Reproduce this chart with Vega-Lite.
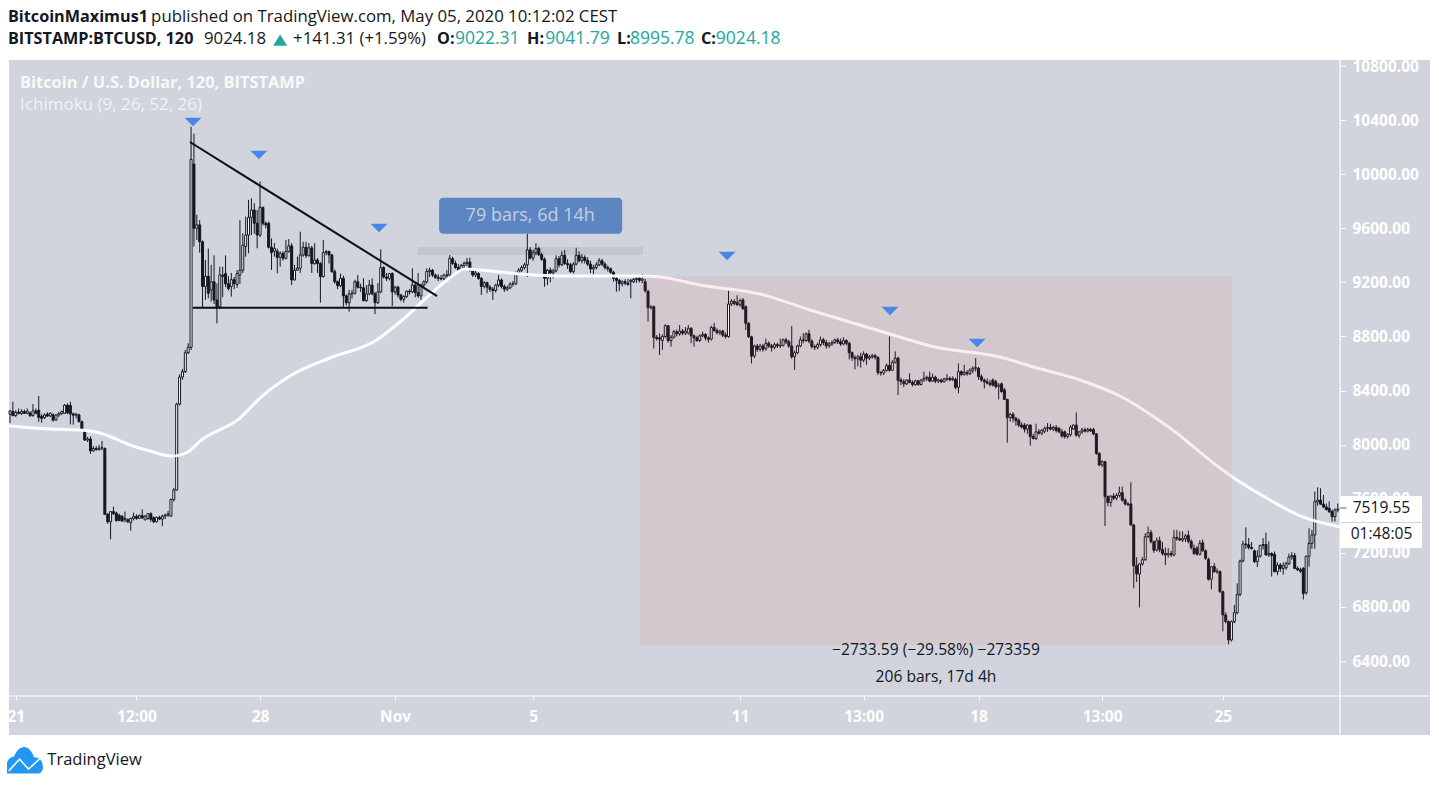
{"$schema":"https://vega.github.io/schema/vega-lite/v6.json","width":1421,"height":675,"autosize":"none","padding":{"left":9,"top":60,"right":9,"bottom":50},"background":"#ffffff","view":{"fill":"#d1d4dc","stroke":null},"config":{"font":"Open Sans"},
"encoding":{"x":{"field":"i","type":"quantitative","scale":{"domain":[-0.348,494.08],"nice":false,"zero":false,"padding":0},"axis":{"title":null,"orient":"bottom","offset":-39,"values":[2,44,87,134,182,254,297,337,380,422],"labelExpr":"{'2':'21','44':'12:00','87':'28','134':'Nov','182':'5','254':'11','297':'13:00','337':'18','380':'13:00','422':'25'}[''+datum.value]","grid":false,"domain":false,"tickColor":"#ffffff","tickSize":4,"labelColor":"#ffffff","labelFontSize":15.5,"labelFontWeight":"bold","labelFont":"Open Sans","labelPadding":9,"labelOverlap":false,"labelFlush":false}},
"y":{"field":"p","type":"quantitative","scale":{"domain":[5853.4,10844.4],"nice":false,"zero":false,"padding":0},"axis":{"title":null,"orient":"right","offset":-90,"values":[6400,6800,7200,7600,8000,8400,8800,9200,9600,10000,10400,10800],"format":".2f","grid":false,"domain":false,"tickColor":"#ffffff","tickSize":5,"labelColor":"#ffffff","labelFontSize":15.5,"labelFontWeight":"bold","labelFont":"Open Sans","labelPadding":7,"labelOverlap":false,"labelFlush":false}}},
"datasets":{
"separators":[{"i":462.8,"i2":462.8,"p":10844.4,"p2":5853.4},{"i":-0.348,"i2":494.08,"p":6141.8,"p2":6141.8}],
"candles":[
{"i":0,"o":8225,"h":8255,"l":8160,"c":8250},{"i":1,"o":8245,"h":8318,"l":8210,"c":8215},{"i":2,"o":8215,"h":8255,"l":8205,"c":8240},{"i":3,"o":8240,"h":8268,"l":8225,"c":8230},{"i":4,"o":8230,"h":8262,"l":8220,"c":8245},{"i":5,"o":8245,"h":8260,"l":8228,"c":8232},{"i":6,"o":8232,"h":8268,"l":8225,"c":8248},{"i":7,"o":8235,"h":8245,"l":8205,"c":8215},{"i":8,"o":8215,"h":8300,"l":8208,"c":8250},{"i":9,"o":8250,"h":8268,"l":8228,"c":8232},
{"i":10,"o":8255,"h":8360,"l":8170,"c":8202},{"i":11,"o":8210,"h":8225,"l":8162,"c":8195},{"i":12,"o":8200,"h":8232,"l":8190,"c":8220},{"i":13,"o":8225,"h":8240,"l":8205,"c":8212},{"i":14,"o":8212,"h":8240,"l":8205,"c":8232},{"i":15,"o":8220,"h":8232,"l":8170,"c":8182},{"i":16,"o":8182,"h":8225,"l":8178,"c":8220},{"i":17,"o":8220,"h":8240,"l":8205,"c":8232},{"i":18,"o":8230,"h":8252,"l":8218,"c":8245},{"i":19,"o":8232,"h":8300,"l":8228,"c":8292},
{"i":20,"o":8292,"h":8305,"l":8225,"c":8235},{"i":21,"o":8290,"h":8318,"l":8150,"c":8228},{"i":22,"o":8228,"h":8238,"l":8148,"c":8218},{"i":23,"o":8218,"h":8235,"l":8195,"c":8225},{"i":24,"o":8220,"h":8230,"l":8165,"c":8170},{"i":25,"o":8170,"h":8178,"l":8105,"c":8108},{"i":26,"o":8108,"h":8115,"l":8030,"c":8034},{"i":27,"o":8034,"h":8058,"l":8020,"c":8042},{"i":28,"o":8042,"h":8060,"l":7932,"c":7955},{"i":29,"o":7955,"h":7990,"l":7948,"c":7972},
{"i":30,"o":7972,"h":7990,"l":7955,"c":7965},{"i":31,"o":7965,"h":7998,"l":7955,"c":7975},{"i":32,"o":7975,"h":8027,"l":7958,"c":7978},{"i":33,"o":7972,"h":7980,"l":7480,"c":7485},{"i":34,"o":7485,"h":7495,"l":7415,"c":7430},{"i":35,"o":7430,"h":7510,"l":7300,"c":7505},{"i":36,"o":7505,"h":7542,"l":7480,"c":7490},{"i":37,"o":7495,"h":7505,"l":7430,"c":7440},{"i":38,"o":7478,"h":7490,"l":7435,"c":7440},{"i":39,"o":7470,"h":7480,"l":7430,"c":7435},
{"i":40,"o":7445,"h":7505,"l":7425,"c":7455},{"i":41,"o":7445,"h":7455,"l":7420,"c":7430},{"i":42,"o":7423,"h":7460,"l":7364,"c":7455},{"i":43,"o":7455,"h":7497,"l":7440,"c":7470},{"i":44,"o":7470,"h":7485,"l":7445,"c":7455},{"i":45,"o":7455,"h":7485,"l":7450,"c":7475},{"i":46,"o":7475,"h":7522,"l":7450,"c":7460},{"i":47,"o":7445,"h":7480,"l":7440,"c":7472},{"i":48,"o":7455,"h":7490,"l":7445,"c":7490},{"i":49,"o":7490,"h":7500,"l":7430,"c":7448},
{"i":50,"o":7460,"h":7470,"l":7420,"c":7430},{"i":51,"o":7430,"h":7470,"l":7425,"c":7462},{"i":52,"o":7462,"h":7475,"l":7445,"c":7450},{"i":53,"o":7450,"h":7482,"l":7398,"c":7472},{"i":54,"o":7472,"h":7490,"l":7450,"c":7480},{"i":55,"o":7480,"h":7510,"l":7465,"c":7488},{"i":56,"o":7472,"h":7600,"l":7470,"c":7595},{"i":57,"o":7595,"h":7680,"l":7580,"c":7665},{"i":58,"o":7665,"h":8310,"l":7660,"c":8300},{"i":59,"o":8300,"h":8520,"l":8290,"c":8500},
{"i":60,"o":8500,"h":8560,"l":8480,"c":8540},{"i":61,"o":8540,"h":8700,"l":8530,"c":8680},{"i":62,"o":8680,"h":8750,"l":8670,"c":8720},{"i":63,"o":8720,"h":10350,"l":8700,"c":10110},{"i":64,"o":10075,"h":10300,"l":9465,"c":9600},{"i":65,"o":9600,"h":9700,"l":9514,"c":9625},{"i":66,"o":9625,"h":9660,"l":9420,"c":9500},{"i":67,"o":9500,"h":9510,"l":9010,"c":9170},{"i":68,"o":9170,"h":9366,"l":9070,"c":9245},{"i":69,"o":9245,"h":9450,"l":9082,"c":9120},
{"i":70,"o":9145,"h":9330,"l":9058,"c":9205},{"i":71,"o":9205,"h":9400,"l":9040,"c":9070},{"i":72,"o":9070,"h":9193,"l":8897,"c":9020},{"i":73,"o":9020,"h":9316,"l":9005,"c":9255},{"i":74,"o":9255,"h":9316,"l":9090,"c":9245},{"i":75,"o":9265,"h":9400,"l":9165,"c":9190},{"i":76,"o":9190,"h":9245,"l":9140,"c":9155},{"i":77,"o":9170,"h":9270,"l":9095,"c":9220},{"i":78,"o":9220,"h":9240,"l":9150,"c":9190},{"i":79,"o":9185,"h":9290,"l":9160,"c":9265},
{"i":80,"o":9255,"h":9660,"l":9190,"c":9290},{"i":81,"o":9290,"h":9563,"l":9270,"c":9475},{"i":82,"o":9465,"h":9686,"l":9390,"c":9550},{"i":83,"o":9550,"h":9810,"l":9415,"c":9681},{"i":84,"o":9681,"h":9822,"l":9550,"c":9735},{"i":85,"o":9735,"h":9785,"l":9560,"c":9637},{"i":86,"o":9637,"h":9735,"l":9452,"c":9550},{"i":87,"o":9550,"h":9945,"l":9535,"c":9755},{"i":88,"o":9755,"h":9760,"l":9620,"c":9637},{"i":89,"o":9637,"h":9650,"l":9600,"c":9625},
{"i":90,"o":9637,"h":9650,"l":9450,"c":9460},{"i":91,"o":9460,"h":9525,"l":9292,"c":9420},{"i":92,"o":9430,"h":9490,"l":9390,"c":9450},{"i":93,"o":9430,"h":9450,"l":9267,"c":9385},{"i":94,"o":9385,"h":9430,"l":9316,"c":9415},{"i":95,"o":9415,"h":9430,"l":9360,"c":9378},{"i":96,"o":9378,"h":9513,"l":9370,"c":9428},{"i":97,"o":9428,"h":9520,"l":9420,"c":9470},{"i":98,"o":9470,"h":9490,"l":9180,"c":9218},{"i":99,"o":9218,"h":9330,"l":9215,"c":9290},
{"i":100,"o":9290,"h":9390,"l":9285,"c":9305},{"i":101,"o":9305,"h":9575,"l":9270,"c":9403},{"i":102,"o":9403,"h":9500,"l":9390,"c":9460},{"i":103,"o":9460,"h":9500,"l":9380,"c":9398},{"i":104,"o":9398,"h":9490,"l":9390,"c":9455},{"i":105,"o":9455,"h":9470,"l":9270,"c":9340},{"i":106,"o":9340,"h":9490,"l":9330,"c":9365},{"i":107,"o":9365,"h":9380,"l":9270,"c":9340},{"i":108,"o":9340,"h":9350,"l":9050,"c":9243},{"i":109,"o":9243,"h":9514,"l":9235,"c":9420},
{"i":110,"o":9420,"h":9440,"l":9400,"c":9428},{"i":111,"o":9428,"h":9435,"l":9340,"c":9403},{"i":112,"o":9403,"h":9410,"l":9270,"c":9280},{"i":113,"o":9280,"h":9295,"l":9190,"c":9205},{"i":114,"o":9205,"h":9215,"l":9150,"c":9175},{"i":115,"o":9175,"h":9265,"l":9165,"c":9230},{"i":116,"o":9230,"h":9250,"l":9020,"c":9100},{"i":117,"o":9100,"h":9110,"l":9030,"c":9050},{"i":118,"o":9050,"h":9145,"l":8984,"c":9115},{"i":119,"o":9115,"h":9145,"l":9080,"c":9120},
{"i":120,"o":9120,"h":9220,"l":9110,"c":9205},{"i":121,"o":9205,"h":9255,"l":9155,"c":9165},{"i":122,"o":9165,"h":9190,"l":9130,"c":9160},{"i":123,"o":9160,"h":9230,"l":9060,"c":9065},{"i":124,"o":9065,"h":9180,"l":9055,"c":9115},{"i":125,"o":9115,"h":9218,"l":9105,"c":9180},{"i":126,"o":9180,"h":9230,"l":9105,"c":9115},{"i":127,"o":9115,"h":9130,"l":8966,"c":9050},{"i":128,"o":9050,"h":9195,"l":9040,"c":9130},{"i":129,"o":9130,"h":9445,"l":9120,"c":9310},
{"i":130,"o":9310,"h":9320,"l":9230,"c":9240},{"i":131,"o":9240,"h":9270,"l":9210,"c":9230},{"i":132,"o":9230,"h":9270,"l":9215,"c":9265},{"i":133,"o":9265,"h":9275,"l":9025,"c":9130},{"i":134,"o":9130,"h":9175,"l":9110,"c":9165},{"i":135,"o":9165,"h":9175,"l":9090,"c":9107},{"i":136,"o":9107,"h":9115,"l":9060,"c":9075},{"i":137,"o":9075,"h":9105,"l":9050,"c":9095},{"i":138,"o":9095,"h":9140,"l":9085,"c":9135},{"i":139,"o":9135,"h":9150,"l":9110,"c":9130},
{"i":140,"o":9130,"h":9304,"l":9120,"c":9180},{"i":141,"o":9180,"h":9195,"l":9090,"c":9125},{"i":142,"o":9125,"h":9270,"l":9085,"c":9100},{"i":143,"o":9100,"h":9190,"l":9070,"c":9180},{"i":144,"o":9180,"h":9215,"l":9160,"c":9205},{"i":145,"o":9205,"h":9304,"l":9190,"c":9280},{"i":146,"o":9280,"h":9310,"l":9240,"c":9290},{"i":147,"o":9290,"h":9300,"l":9240,"c":9254},{"i":148,"o":9254,"h":9265,"l":9225,"c":9238},{"i":149,"o":9238,"h":9260,"l":9210,"c":9230},
{"i":150,"o":9230,"h":9255,"l":9215,"c":9225},{"i":151,"o":9225,"h":9265,"l":9215,"c":9255},{"i":152,"o":9255,"h":9290,"l":9235,"c":9250},{"i":153,"o":9254,"h":9402,"l":9240,"c":9378},{"i":154,"o":9375,"h":9390,"l":9330,"c":9340},{"i":155,"o":9340,"h":9360,"l":9300,"c":9310},{"i":156,"o":9310,"h":9335,"l":9280,"c":9290},{"i":157,"o":9290,"h":9335,"l":9280,"c":9325},{"i":158,"o":9325,"h":9355,"l":9300,"c":9340},{"i":159,"o":9340,"h":9380,"l":9320,"c":9350},
{"i":160,"o":9350,"h":9382,"l":9280,"c":9290},{"i":161,"o":9290,"h":9300,"l":9240,"c":9255},{"i":162,"o":9255,"h":9285,"l":9240,"c":9270},{"i":163,"o":9265,"h":9275,"l":9220,"c":9230},{"i":164,"o":9230,"h":9240,"l":9107,"c":9170},{"i":165,"o":9170,"h":9210,"l":9155,"c":9198},{"i":166,"o":9198,"h":9205,"l":9120,"c":9165},{"i":167,"o":9165,"h":9180,"l":9130,"c":9150},{"i":168,"o":9150,"h":9165,"l":9070,"c":9140},{"i":169,"o":9140,"h":9190,"l":9125,"c":9180},
{"i":170,"o":9180,"h":9255,"l":9165,"c":9218},{"i":171,"o":9218,"h":9230,"l":9155,"c":9170},{"i":172,"o":9170,"h":9185,"l":9130,"c":9150},{"i":173,"o":9150,"h":9175,"l":9135,"c":9160},{"i":174,"o":9160,"h":9200,"l":9150,"c":9188},{"i":175,"o":9188,"h":9210,"l":9170,"c":9190},{"i":176,"o":9190,"h":9280,"l":9180,"c":9267},{"i":177,"o":9267,"h":9305,"l":9255,"c":9290},{"i":178,"o":9290,"h":9325,"l":9275,"c":9310},{"i":179,"o":9310,"h":9345,"l":9295,"c":9330},
{"i":180,"o":9330,"h":9558,"l":9240,"c":9440},{"i":181,"o":9440,"h":9460,"l":9370,"c":9380},{"i":182,"o":9380,"h":9440,"l":9360,"c":9420},{"i":183,"o":9420,"h":9490,"l":9400,"c":9450},{"i":184,"o":9450,"h":9465,"l":9395,"c":9405},{"i":185,"o":9405,"h":9420,"l":9360,"c":9370},{"i":186,"o":9370,"h":9385,"l":9168,"c":9230},{"i":187,"o":9230,"h":9300,"l":9180,"c":9290},{"i":188,"o":9290,"h":9310,"l":9200,"c":9270},{"i":189,"o":9270,"h":9300,"l":9230,"c":9285},
{"i":190,"o":9285,"h":9400,"l":9275,"c":9375},{"i":191,"o":9375,"h":9395,"l":9310,"c":9330},{"i":192,"o":9330,"h":9430,"l":9320,"c":9400},{"i":193,"o":9400,"h":9440,"l":9330,"c":9340},{"i":194,"o":9340,"h":9370,"l":9300,"c":9330},{"i":195,"o":9330,"h":9345,"l":9270,"c":9280},{"i":196,"o":9280,"h":9350,"l":9265,"c":9335},{"i":197,"o":9335,"h":9456,"l":9325,"c":9400},{"i":198,"o":9400,"h":9430,"l":9350,"c":9360},{"i":199,"o":9360,"h":9410,"l":9340,"c":9385},
{"i":200,"o":9385,"h":9400,"l":9340,"c":9362},{"i":201,"o":9362,"h":9385,"l":9320,"c":9335},{"i":202,"o":9335,"h":9360,"l":9270,"c":9300},{"i":203,"o":9300,"h":9330,"l":9260,"c":9310},{"i":204,"o":9310,"h":9350,"l":9295,"c":9330},{"i":205,"o":9330,"h":9380,"l":9320,"c":9360},{"i":206,"o":9360,"h":9375,"l":9320,"c":9335},{"i":207,"o":9335,"h":9350,"l":9295,"c":9310},{"i":208,"o":9310,"h":9325,"l":9280,"c":9300},{"i":209,"o":9300,"h":9310,"l":9265,"c":9275},
{"i":210,"o":9275,"h":9285,"l":9205,"c":9230},{"i":211,"o":9230,"h":9240,"l":9131,"c":9215},{"i":212,"o":9215,"h":9225,"l":9135,"c":9190},{"i":213,"o":9190,"h":9215,"l":9170,"c":9205},{"i":214,"o":9205,"h":9222,"l":9180,"c":9195},{"i":215,"o":9195,"h":9225,"l":9175,"c":9185},{"i":216,"o":9205,"h":9225,"l":9082,"c":9215},{"i":217,"o":9205,"h":9235,"l":9195,"c":9222},{"i":218,"o":9222,"h":9240,"l":9195,"c":9230},{"i":219,"o":9230,"h":9252,"l":9200,"c":9215},
{"i":220,"o":9215,"h":9262,"l":9195,"c":9225},{"i":221,"o":9205,"h":9225,"l":9125,"c":9138},{"i":222,"o":9135,"h":9145,"l":8910,"c":9013},{"i":223,"o":9013,"h":9030,"l":9000,"c":9020},{"i":224,"o":9020,"h":9030,"l":8712,"c":8794},{"i":225,"o":8794,"h":8810,"l":8770,"c":8785},{"i":226,"o":8790,"h":8823,"l":8663,"c":8780},{"i":227,"o":8770,"h":8815,"l":8700,"c":8800},{"i":228,"o":8800,"h":8890,"l":8790,"c":8880},{"i":229,"o":8880,"h":8885,"l":8755,"c":8770},
{"i":230,"o":8770,"h":8810,"l":8725,"c":8795},{"i":231,"o":8795,"h":8848,"l":8785,"c":8835},{"i":232,"o":8835,"h":8850,"l":8800,"c":8820},{"i":233,"o":8820,"h":8885,"l":8805,"c":8840},{"i":234,"o":8840,"h":8855,"l":8810,"c":8825},{"i":235,"o":8825,"h":8870,"l":8810,"c":8840},{"i":236,"o":8825,"h":8885,"l":8815,"c":8860},{"i":237,"o":8860,"h":8870,"l":8750,"c":8805},{"i":238,"o":8805,"h":8815,"l":8725,"c":8790},{"i":239,"o":8790,"h":8805,"l":8760,"c":8770},
{"i":240,"o":8770,"h":8815,"l":8760,"c":8805},{"i":241,"o":8805,"h":8835,"l":8795,"c":8815},{"i":242,"o":8815,"h":8825,"l":8770,"c":8790},{"i":243,"o":8790,"h":8800,"l":8755,"c":8780},{"i":244,"o":8780,"h":8880,"l":8770,"c":8867},{"i":245,"o":8867,"h":8900,"l":8835,"c":8845},{"i":246,"o":8845,"h":8860,"l":8815,"c":8828},{"i":247,"o":8828,"h":8850,"l":8810,"c":8840},{"i":248,"o":8840,"h":8850,"l":8795,"c":8810},{"i":249,"o":8810,"h":8830,"l":8785,"c":8800},
{"i":250,"o":8800,"h":9139,"l":8790,"c":9040},{"i":251,"o":9040,"h":9075,"l":9025,"c":9060},{"i":252,"o":9060,"h":9075,"l":9030,"c":9045},{"i":253,"o":9050,"h":9105,"l":9025,"c":9035},{"i":254,"o":9035,"h":9080,"l":9020,"c":9065},{"i":255,"o":9070,"h":9085,"l":8995,"c":9008},{"i":256,"o":9020,"h":9030,"l":8848,"c":8898},{"i":257,"o":8898,"h":8905,"l":8790,"c":8798},{"i":258,"o":8798,"h":8805,"l":8600,"c":8655},{"i":259,"o":8655,"h":8740,"l":8640,"c":8730},
{"i":260,"o":8730,"h":8745,"l":8685,"c":8705},{"i":261,"o":8705,"h":8745,"l":8690,"c":8730},{"i":262,"o":8730,"h":8745,"l":8688,"c":8705},{"i":263,"o":8710,"h":8785,"l":8695,"c":8750},{"i":264,"o":8750,"h":8765,"l":8715,"c":8730},{"i":265,"o":8730,"h":8745,"l":8688,"c":8720},{"i":266,"o":8720,"h":8755,"l":8705,"c":8740},{"i":267,"o":8740,"h":8755,"l":8715,"c":8730},{"i":268,"o":8730,"h":8785,"l":8715,"c":8735},{"i":269,"o":8735,"h":8785,"l":8725,"c":8775},
{"i":270,"o":8775,"h":8790,"l":8745,"c":8760},{"i":271,"o":8760,"h":8775,"l":8715,"c":8730},{"i":272,"o":8730,"h":8877,"l":8635,"c":8650},{"i":273,"o":8650,"h":8695,"l":8552,"c":8680},{"i":274,"o":8680,"h":8740,"l":8670,"c":8730},{"i":275,"o":8730,"h":8800,"l":8720,"c":8775},{"i":276,"o":8775,"h":8825,"l":8750,"c":8770},{"i":277,"o":8770,"h":8830,"l":8760,"c":8820},{"i":278,"o":8820,"h":8850,"l":8750,"c":8766},{"i":279,"o":8766,"h":8780,"l":8710,"c":8725},
{"i":280,"o":8725,"h":8740,"l":8700,"c":8720},{"i":281,"o":8720,"h":8755,"l":8705,"c":8740},{"i":282,"o":8740,"h":8800,"l":8725,"c":8775},{"i":283,"o":8775,"h":8790,"l":8735,"c":8755},{"i":284,"o":8755,"h":8775,"l":8710,"c":8730},{"i":285,"o":8730,"h":8760,"l":8715,"c":8745},{"i":286,"o":8745,"h":8770,"l":8730,"c":8755},{"i":287,"o":8755,"h":8785,"l":8745,"c":8775},{"i":288,"o":8775,"h":8790,"l":8745,"c":8760},{"i":289,"o":8760,"h":8785,"l":8730,"c":8745},
{"i":290,"o":8745,"h":8795,"l":8735,"c":8770},{"i":291,"o":8770,"h":8780,"l":8735,"c":8750},{"i":292,"o":8750,"h":8760,"l":8630,"c":8680},{"i":293,"o":8680,"h":8690,"l":8620,"c":8645},{"i":294,"o":8645,"h":8660,"l":8557,"c":8635},{"i":295,"o":8635,"h":8665,"l":8580,"c":8650},{"i":296,"o":8650,"h":8680,"l":8570,"c":8625},{"i":297,"o":8625,"h":8690,"l":8610,"c":8670},{"i":298,"o":8670,"h":8680,"l":8590,"c":8640},{"i":299,"o":8640,"h":8665,"l":8625,"c":8650},
{"i":300,"o":8650,"h":8672,"l":8635,"c":8658},{"i":301,"o":8658,"h":8672,"l":8630,"c":8645},{"i":302,"o":8645,"h":8655,"l":8515,"c":8533},{"i":303,"o":8533,"h":8545,"l":8510,"c":8530},{"i":304,"o":8530,"h":8560,"l":8515,"c":8550},{"i":305,"o":8550,"h":8600,"l":8540,"c":8585},{"i":306,"o":8585,"h":8800,"l":8540,"c":8550},{"i":307,"o":8550,"h":8625,"l":8545,"c":8610},{"i":308,"o":8610,"h":8690,"l":8600,"c":8640},{"i":309,"o":8640,"h":8650,"l":8367,"c":8475},
{"i":310,"o":8478,"h":8495,"l":8440,"c":8466},{"i":311,"o":8466,"h":8485,"l":8425,"c":8450},{"i":312,"o":8450,"h":8485,"l":8440,"c":8478},{"i":313,"o":8478,"h":8528,"l":8455,"c":8460},{"i":314,"o":8460,"h":8475,"l":8430,"c":8445},{"i":315,"o":8445,"h":8480,"l":8435,"c":8472},{"i":316,"o":8472,"h":8480,"l":8435,"c":8445},{"i":317,"o":8445,"h":8485,"l":8438,"c":8478},{"i":318,"o":8478,"h":8540,"l":8465,"c":8490},{"i":319,"o":8490,"h":8510,"l":8470,"c":8498},
{"i":320,"o":8498,"h":8540,"l":8462,"c":8470},{"i":321,"o":8470,"h":8525,"l":8465,"c":8498},{"i":322,"o":8498,"h":8510,"l":8455,"c":8470},{"i":323,"o":8470,"h":8490,"l":8455,"c":8478},{"i":324,"o":8478,"h":8490,"l":8455,"c":8465},{"i":325,"o":8465,"h":8495,"l":8460,"c":8485},{"i":326,"o":8485,"h":8522,"l":8470,"c":8490},{"i":327,"o":8490,"h":8505,"l":8470,"c":8480},{"i":328,"o":8480,"h":8505,"l":8470,"c":8490},{"i":329,"o":8483,"h":8495,"l":8410,"c":8424},
{"i":330,"o":8424,"h":8600,"l":8380,"c":8540},{"i":331,"o":8540,"h":8550,"l":8505,"c":8520},{"i":332,"o":8520,"h":8590,"l":8510,"c":8535},{"i":333,"o":8535,"h":8550,"l":8510,"c":8525},{"i":334,"o":8525,"h":8565,"l":8515,"c":8550},{"i":335,"o":8550,"h":8580,"l":8530,"c":8565},{"i":336,"o":8565,"h":8640,"l":8540,"c":8570},{"i":337,"o":8565,"h":8575,"l":8480,"c":8503},{"i":338,"o":8503,"h":8520,"l":8465,"c":8478},{"i":339,"o":8478,"h":8490,"l":8415,"c":8465},
{"i":340,"o":8465,"h":8490,"l":8445,"c":8455},{"i":341,"o":8455,"h":8480,"l":8430,"c":8445},{"i":342,"o":8478,"h":8490,"l":8430,"c":8440},{"i":343,"o":8465,"h":8480,"l":8415,"c":8430},{"i":344,"o":8430,"h":8455,"l":8335,"c":8440},{"i":345,"o":8450,"h":8460,"l":8385,"c":8392},{"i":346,"o":8405,"h":8420,"l":8330,"c":8335},{"i":347,"o":8335,"h":8340,"l":8015,"c":8200},{"i":348,"o":8200,"h":8235,"l":8170,"c":8225},{"i":349,"o":8225,"h":8240,"l":8165,"c":8195},
{"i":350,"o":8195,"h":8205,"l":8140,"c":8178},{"i":351,"o":8180,"h":8195,"l":8130,"c":8145},{"i":352,"o":8145,"h":8165,"l":8120,"c":8130},{"i":353,"o":8145,"h":8160,"l":8090,"c":8115},{"i":354,"o":8115,"h":8150,"l":8080,"c":8145},{"i":355,"o":8145,"h":8150,"l":7993,"c":8060},{"i":356,"o":8060,"h":8080,"l":8040,"c":8045},{"i":357,"o":8045,"h":8155,"l":8035,"c":8095},{"i":358,"o":8095,"h":8115,"l":8075,"c":8085},{"i":359,"o":8085,"h":8115,"l":8070,"c":8108},
{"i":360,"o":8100,"h":8135,"l":8085,"c":8120},{"i":361,"o":8120,"h":8160,"l":8095,"c":8128},{"i":362,"o":8128,"h":8155,"l":8105,"c":8115},{"i":363,"o":8115,"h":8140,"l":8100,"c":8128},{"i":364,"o":8128,"h":8145,"l":8090,"c":8105},{"i":365,"o":8120,"h":8130,"l":8085,"c":8095},{"i":366,"o":8095,"h":8115,"l":8050,"c":8065},{"i":367,"o":8095,"h":8105,"l":8045,"c":8060},{"i":368,"o":8060,"h":8085,"l":8045,"c":8075},{"i":369,"o":8075,"h":8145,"l":8060,"c":8130},
{"i":370,"o":8116,"h":8150,"l":8110,"c":8145},{"i":371,"o":8145,"h":8239,"l":8060,"c":8070},{"i":372,"o":8070,"h":8100,"l":8050,"c":8095},{"i":373,"o":8095,"h":8125,"l":8080,"c":8110},{"i":374,"o":8110,"h":8125,"l":8090,"c":8100},{"i":375,"o":8100,"h":8125,"l":8090,"c":8112},{"i":376,"o":8112,"h":8125,"l":8095,"c":8102},{"i":377,"o":8112,"h":8125,"l":8070,"c":8080},{"i":378,"o":8080,"h":8085,"l":7925,"c":7935},{"i":379,"o":7935,"h":7945,"l":7840,"c":7850},
{"i":380,"o":7850,"h":7885,"l":7835,"c":7875},{"i":381,"o":7875,"h":7880,"l":7399,"c":7616},{"i":382,"o":7616,"h":7625,"l":7545,"c":7572},{"i":383,"o":7572,"h":7625,"l":7540,"c":7620},{"i":384,"o":7620,"h":7640,"l":7590,"c":7605},{"i":385,"o":7605,"h":7640,"l":7590,"c":7625},{"i":386,"o":7625,"h":7690,"l":7610,"c":7645},{"i":387,"o":7645,"h":7690,"l":7580,"c":7590},{"i":388,"o":7591,"h":7605,"l":7550,"c":7562},{"i":389,"o":7562,"h":7575,"l":7550,"c":7555},
{"i":390,"o":7562,"h":7722,"l":7400,"c":7406},{"i":391,"o":7406,"h":7415,"l":6938,"c":7105},{"i":392,"o":7105,"h":7167,"l":6985,"c":7044},{"i":393,"o":7044,"h":7125,"l":6797,"c":7118},{"i":394,"o":7118,"h":7170,"l":7105,"c":7150},{"i":395,"o":7150,"h":7345,"l":7140,"c":7320},{"i":396,"o":7320,"h":7395,"l":7310,"c":7350},{"i":397,"o":7350,"h":7370,"l":7270,"c":7283},{"i":398,"o":7283,"h":7290,"l":7200,"c":7220},{"i":399,"o":7220,"h":7315,"l":7210,"c":7290},
{"i":400,"o":7290,"h":7320,"l":7205,"c":7225},{"i":401,"o":7225,"h":7280,"l":7180,"c":7195},{"i":402,"o":7195,"h":7240,"l":7110,"c":7185},{"i":403,"o":7185,"h":7235,"l":7165,"c":7195},{"i":404,"o":7195,"h":7215,"l":7170,"c":7185},{"i":405,"o":7185,"h":7370,"l":7175,"c":7315},{"i":406,"o":7315,"h":7370,"l":7290,"c":7305},{"i":407,"o":7305,"h":7360,"l":7290,"c":7295},{"i":408,"o":7295,"h":7360,"l":7280,"c":7305},{"i":409,"o":7305,"h":7340,"l":7280,"c":7325},
{"i":410,"o":7330,"h":7365,"l":7270,"c":7285},{"i":411,"o":7285,"h":7300,"l":7225,"c":7240},{"i":412,"o":7235,"h":7260,"l":7185,"c":7195},{"i":413,"o":7235,"h":7250,"l":7180,"c":7190},{"i":414,"o":7190,"h":7295,"l":7180,"c":7270},{"i":415,"o":7275,"h":7300,"l":7210,"c":7215},{"i":416,"o":7215,"h":7225,"l":7150,"c":7160},{"i":417,"o":7152,"h":7165,"l":6995,"c":7005},{"i":418,"o":7005,"h":7100,"l":6930,"c":7098},{"i":419,"o":7100,"h":7125,"l":7055,"c":7060},
{"i":420,"o":7060,"h":7085,"l":7045,"c":7065},{"i":421,"o":7061,"h":7070,"l":6905,"c":6913},{"i":422,"o":6913,"h":6920,"l":6620,"c":6741},{"i":423,"o":6741,"h":6760,"l":6680,"c":6692},{"i":424,"o":6692,"h":6700,"l":6524,"c":6556},{"i":425,"o":6556,"h":6700,"l":6545,"c":6692},{"i":426,"o":6692,"h":6815,"l":6680,"c":6758},{"i":427,"o":6758,"h":6975,"l":6745,"c":6893},{"i":428,"o":6893,"h":7150,"l":6880,"c":7140},{"i":429,"o":7140,"h":7290,"l":7130,"c":7266},
{"i":430,"o":7266,"h":7389,"l":7230,"c":7260},{"i":431,"o":7260,"h":7310,"l":7225,"c":7240},{"i":432,"o":7240,"h":7280,"l":7225,"c":7232},{"i":433,"o":7215,"h":7225,"l":7125,"c":7135},{"i":434,"o":7135,"h":7220,"l":7095,"c":7175},{"i":435,"o":7175,"h":7260,"l":7165,"c":7255},{"i":436,"o":7255,"h":7310,"l":7225,"c":7262},{"i":437,"o":7262,"h":7350,"l":7180,"c":7185},{"i":438,"o":7185,"h":7285,"l":7170,"c":7195},{"i":439,"o":7195,"h":7205,"l":7025,"c":7180},
{"i":440,"o":7190,"h":7210,"l":7060,"c":7060},{"i":441,"o":7060,"h":7130,"l":7035,"c":7110},{"i":442,"o":7110,"h":7125,"l":7060,"c":7085},{"i":443,"o":7085,"h":7130,"l":7040,"c":7105},{"i":444,"o":7090,"h":7135,"l":7075,"c":7120},{"i":445,"o":7120,"h":7195,"l":7110,"c":7170},{"i":446,"o":7170,"h":7205,"l":7150,"c":7180},{"i":447,"o":7180,"h":7200,"l":7080,"c":7085},{"i":448,"o":7085,"h":7100,"l":7065,"c":7075},{"i":449,"o":7075,"h":7090,"l":7050,"c":7065},
{"i":450,"o":7085,"h":7095,"l":6856,"c":6900},{"i":451,"o":6905,"h":7180,"l":6890,"c":7175},{"i":452,"o":7175,"h":7382,"l":7098,"c":7270},{"i":453,"o":7270,"h":7370,"l":7230,"c":7332},{"i":454,"o":7332,"h":7653,"l":7230,"c":7579},{"i":455,"o":7576,"h":7685,"l":7550,"c":7590},{"i":456,"o":7590,"h":7678,"l":7555,"c":7560},{"i":457,"o":7560,"h":7628,"l":7530,"c":7540},{"i":458,"o":7540,"h":7565,"l":7515,"c":7520},{"i":459,"o":7530,"h":7580,"l":7495,"c":7505},
{"i":460,"o":7505,"h":7520,"l":7431,"c":7468},{"i":461,"o":7468,"h":7530,"l":7431,"c":7517},{"i":462,"o":7517,"h":7565,"l":7500,"c":7525}],
"ichimoku":[{"i":-0.3,"p":8138},{"i":13.9,"p":8116},{"i":24.4,"p":8109},{"i":31.3,"p":8086},{"i":41.8,"p":7998},{"i":48.7,"p":7953},{"i":56.4,"p":7916},{"i":61.9,"p":7946},{"i":66.1,"p":8027},{"i":80,"p":8197},{"i":87,"p":8345},{"i":97.4,"p":8508},{"i":111.3,"p":8641},{"i":127,"p":8767},{"i":135.7,"p":8907},{"i":146,"p":9107},{"i":153,"p":9232},{"i":158.3,"p":9299},{"i":163.5,"p":9292},{"i":177.5,"p":9262},{"i":194.8,"p":9247},{"i":219.2,"p":9247},{"i":226.2,"p":9240},{"i":240,"p":9181},{"i":261,"p":9114},{"i":278.4,"p":8996},{"i":302.7,"p":8841},{"i":321.9,"p":8722},{"i":344.5,"p":8648},{"i":354.9,"p":8582},{"i":372.3,"p":8478},{"i":386.2,"p":8360},{"i":403.6,"p":8123},{"i":421,"p":7828},{"i":428,"p":7724},{"i":438.4,"p":7591},{"i":448.9,"p":7473},{"i":462.8,"p":7392}],
"trend":[{"i":62.6,"i2":148.6,"p":10238,"p2":9099},{"i":63.6,"i2":145.3,"p":9013,"p2":9013}],
"peaks":[{"i":63.7,"p":10386},{"i":86.6,"p":10142},{"i":128.4,"p":9602},{"i":249.5,"p":9395},{"i":306.2,"p":8988},{"i":336.5,"p":8752}],
"measure":[{"i":219.2,"i2":425.2,"p":9247,"p2":6519}],
"band":[{"i":141.9,"i2":220.2,"p":9462,"p2":9403}],
"box":[{"i":149.3,"i2":213,"p":9825,"p2":9559}],
"bold":[{"i":-0.7,"p":11162,"t":"BitcoinMaximus1"},{"i":-0.7,"p":11000,"t":"BITSTAMP:BTCUSD, 120"},{"i":148.6,"p":11000,"t":"O:"},{"i":179.9,"p":11000,"t":"H:"},{"i":211.2,"p":11000,"t":"L:"},{"i":240.4,"p":11000,"t":"C:"}],
"regular":[{"i":49.1,"p":11162,"t":"published on TradingView.com, May 05, 2020 10:12:02 CEST"},{"i":67.5,"p":11000,"t":"9024.18"},{"i":98.5,"p":11000,"t":"+141.31 (+1.59%)"}],
"green":[{"i":154.8,"p":11000,"t":"9022.31"},{"i":186.2,"p":11000,"t":"9041.79"},{"i":215.7,"p":11000,"t":"8995.78"},{"i":245.6,"p":11000,"t":"9024.18"}],
"legendTitle":[{"i":3.5,"p":10674,"t":"Bitcoin / U.S. Dollar, 120, BITSTAMP"}],
"legendStudy":[{"i":3.5,"p":10512,"t":"Ichimoku (9, 26, 52, 26)"}],
"change":[{"i":94,"p":10992}],
"measureText":[{"i":322.2,"p":6482,"t":"−2733.59 (−29.58%) −273359"},{"i":322.2,"p":6282,"t":"206 bars, 17d 4h"}],
"boxText":[{"i":181,"p":9692,"t":"79 bars, 6d 14h"}],
"priceBoxes":[{"i":462.8,"i2":491.3,"p":7621,"p2":7428},{"i":462.8,"i2":491.3,"p":7421,"p2":7236}],
"priceTexts":[{"i":477.2,"p":7532,"t":"7519.55"},{"i":477.2,"p":7340,"t":"01:48:05"}],
"priceTick":[{"i":462.8,"i2":465,"p":7532,"p2":7532}],
"brand":[{"i":13,"p":5668,"t":"TradingView"}],
"logo":[{"i":5.2,"p":5668}]
},
"layer":[
{"data":{"name":"separators"},"mark":{"type":"rule","color":"#ffffff","strokeWidth":1.2},"encoding":{"x2":{"field":"i2"},"y2":{"field":"p2"}}},
{"data":{"name":"candles"},"mark":{"type":"rule","color":"#131722","strokeWidth":1},"encoding":{"y":{"field":"l","type":"quantitative"},"y2":{"field":"h"}}},
{"data":{"name":"candles"},"mark":{"type":"bar","size":2,"stroke":"#131722","strokeWidth":1},"encoding":{"y":{"field":"o","type":"quantitative"},"y2":{"field":"c"},"fill":{"condition":{"test":"datum.c>=datum.o","value":"#ffffff"},"value":"#131722"}}},
{"data":{"name":"ichimoku"},"mark":{"type":"line","color":"#ffffff","strokeWidth":3,"opacity":0.95,"interpolate":"monotone"}},
{"data":{"name":"measure"},"mark":{"type":"rect","fill":"#f44336","opacity":0.08},"encoding":{"x2":{"field":"i2"},"y2":{"field":"p2"}}},
{"data":{"name":"band"},"mark":{"type":"rect","fill":"#131722","opacity":0.08},"encoding":{"x2":{"field":"i2"},"y2":{"field":"p2"}}},
{"data":{"name":"box"},"mark":{"type":"rect","fill":"#5c85c2","cornerRadius":4},"encoding":{"x2":{"field":"i2"},"y2":{"field":"p2"}}},
{"data":{"name":"boxText"},"mark":{"type":"text","color":"#c3d0e6","fontSize":18,"font":"Open Sans","align":"center","baseline":"middle"},"encoding":{"text":{"field":"t"}}},
{"data":{"name":"peaks"},"mark":{"type":"point","shape":"M-1,-0.5L1,-0.5L0,0.5Z","filled":true,"fill":"#4a86e8","opacity":1,"size":289,"strokeWidth":0}},
{"data":{"name":"trend"},"mark":{"type":"rule","color":"#0b0e14","strokeWidth":2},"encoding":{"x2":{"field":"i2"},"y2":{"field":"p2"}}},
{"data":{"name":"legendTitle"},"mark":{"type":"text","color":"#ffffff","opacity":0.85,"fontSize":16.4,"fontWeight":"bold","font":"Open Sans","align":"left","baseline":"middle"},"encoding":{"text":{"field":"t"}}},
{"data":{"name":"legendStudy"},"mark":{"type":"text","color":"#ffffff","opacity":0.7,"fontSize":17,"font":"Open Sans","align":"left","baseline":"middle"},"encoding":{"text":{"field":"t"}}},
{"data":{"name":"measureText"},"mark":{"type":"text","color":"#131722","fontSize":15.6,"font":"Open Sans","align":"center","baseline":"middle"},"encoding":{"text":{"field":"t"}}},
{"data":{"name":"priceBoxes"},"mark":{"type":"rect","fill":"#ffffff"},"encoding":{"x2":{"field":"i2"},"y2":{"field":"p2"}}},
{"data":{"name":"priceTick"},"mark":{"type":"rule","color":"#5d606b","strokeWidth":1},"encoding":{"x2":{"field":"i2"}}},
{"data":{"name":"priceTexts"},"mark":{"type":"text","color":"#131722","fontSize":15.6,"font":"Open Sans","align":"center","baseline":"middle"},"encoding":{"text":{"field":"t"}}},
{"data":{"name":"bold"},"mark":{"type":"text","color":"#131722","fontSize":16.2,"fontWeight":"bold","font":"Open Sans","align":"left","baseline":"middle"},"encoding":{"text":{"field":"t"}}},
{"data":{"name":"regular"},"mark":{"type":"text","color":"#131722","fontSize":16.8,"font":"Open Sans","align":"left","baseline":"middle"},"encoding":{"text":{"field":"t"}}},
{"data":{"name":"green"},"mark":{"type":"text","color":"#26a69a","fontSize":17.5,"font":"Open Sans","align":"left","baseline":"middle"},"encoding":{"text":{"field":"t"}}},
{"data":{"name":"change"},"mark":{"type":"point","shape":"M-1,0.8L1,0.8L0,-0.8Z","filled":true,"fill":"#26a69a","opacity":1,"size":196,"strokeWidth":0}},
{"data":{"name":"brand"},"mark":{"type":"text","color":"#131722","fontSize":16.5,"font":"Open Sans","align":"left","baseline":"middle"},"encoding":{"text":{"field":"t"}}},
{"data":{"name":"logo"},"mark":{"type":"point","shape":"M-1,0.75L-1,0.25C-1,-0.05 -0.8,-0.15 -0.6,-0.2C-0.45,-0.65 -0.1,-0.8 0.1,-0.7C0.3,-0.6 0.45,-0.35 0.5,-0.15C0.85,-0.15 1,0.1 1,0.4C1,0.6 0.9,0.75 0.7,0.75Z","filled":true,"fill":"#2196f3","opacity":1,"size":1296,"strokeWidth":0}},
{"data":{"name":"logo"},"mark":{"type":"point","shape":"M-0.9,0.6L-0.3,-0.05L0.2,0.5L0.85,-0.1","filled":false,"stroke":"#ffffff","opacity":1,"size":1296,"strokeWidth":1.5}}
]}
